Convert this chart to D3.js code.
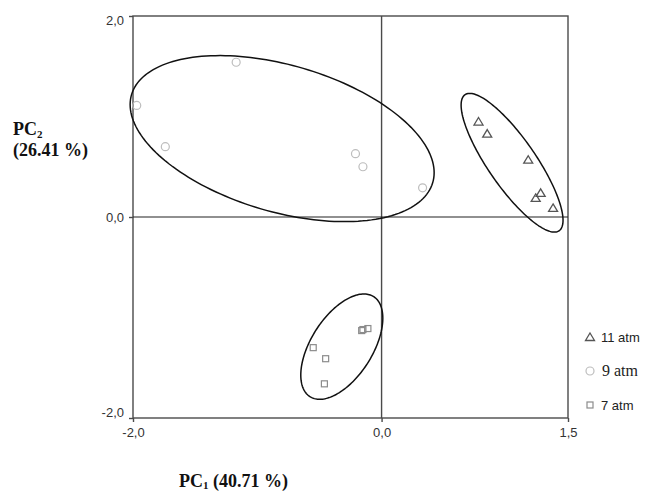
<!DOCTYPE html>
<html>
<head>
<meta charset="utf-8">
<script src="https://cdn.jsdelivr.net/npm/d3@7"></script>
<style>
	body { margin: 0; background: #fff; }
	svg { display: block; }
</style>
</head>
<body>
<svg id="chart" width="651" height="493"></svg>
<script>
	// Score values, one pair of arrays per pressure
	var pc1Atm11 = [0.78, 0.85, 1.18, 1.28, 1.24, 1.38];
	var pc2Atm11 = [0.95, 0.83, 0.57, 0.24, 0.19, 0.09];
	var pc1Atm9 = [-1.17, -1.97, -1.74, -0.21, -0.15, 0.33];
	var pc2Atm9 = [1.54, 1.11, 0.70, 0.63, 0.50, 0.29];
	var pc1Atm7 = [-0.15, -0.11, -0.16, -0.55, -0.45, -0.46];
	var pc2Atm7 = [-1.12, -1.11, -1.13, -1.30, -1.41, -1.66];

	// Confidence ellipses: centre, half extents and correlation, in PC units
	var ellipseGroups = ['11 atm', '9 atm', '7 atm'];
	var ellipseCx = [1.05, -0.80, -0.32];
	var ellipseCy = [0.54, 0.78, -1.29];
	var ellipseRx = [0.41, 1.223, 0.33];
	var ellipseRy = [0.69, 0.826, 0.524];
	var ellipseRho = [-0.83, -0.41, 0.54];

	var legendLabels = ['11 atm', '9 atm', '7 atm'];
	var xTicks = [-2, 0, 1.5];
	var yTicks = [-2, 0, 2];

	var LEFT = 133, RIGHT = 568, TOP = 16, BOTTOM = 418;
	var FRAME = '#4a4a4a';

	var svg = d3.select('#chart');
	var x = d3.scaleLinear().domain([-2, 1.5]).range([LEFT, RIGHT]);
	var y = d3.scaleLinear().domain([-2, 2]).range([BOTTOM, TOP]);
	var fmt = function (d) { return d3.format('.1f')(d).replace('.', ',').replace('−', '-'); };

	// Frame around the plot
	svg.append('rect')
		.attr('x', LEFT).attr('y', TOP)
		.attr('width', RIGHT - LEFT).attr('height', BOTTOM - TOP)
		.attr('fill', 'none').attr('stroke', FRAME).attr('stroke-width', 1.4);

	// Zero lines
	svg.append('line').attr('x1', x(0)).attr('x2', x(0)).attr('y1', TOP).attr('y2', BOTTOM)
		.attr('stroke', FRAME).attr('stroke-width', 1.4);
	svg.append('line').attr('x1', LEFT).attr('x2', RIGHT).attr('y1', y(0)).attr('y2', y(0))
		.attr('stroke', '#222').attr('stroke-width', 1.2);

	// Axes with only the three ticks each
	var xAxis = svg.append('g').attr('transform', 'translate(0,' + BOTTOM + ')')
		.call(d3.axisBottom(x).tickValues(xTicks).tickSize(4).tickFormat(fmt));
	var yAxis = svg.append('g').attr('transform', 'translate(' + LEFT + ',0)')
		.call(d3.axisLeft(y).tickValues(yTicks).tickSize(4).tickFormat(fmt));
	[xAxis, yAxis].forEach(function (g) {
		g.select('.domain').remove();
		g.selectAll('line').attr('stroke', FRAME).attr('stroke-width', 1.4);
		g.selectAll('text').attr('fill', '#333')
			.style('font-family', 'Liberation Sans, Arial, sans-serif').style('font-size', '13px');
	});
	xAxis.selectAll('text').attr('y', 10);
	yAxis.selectAll('text').attr('x', -9)
		.attr('dy', function (d) { return d === 2 ? '0.62em' : d === -2 ? '-0.12em' : '0.32em'; });

	// Ellipses drawn from the covariance style parametrisation
	var line = d3.line().curve(d3.curveLinearClosed);
	var steps = d3.range(0, 2 * Math.PI, Math.PI / 90);
	ellipseGroups.forEach(function (g, i) {
		var pts = steps.map(function (t) {
			var ex = ellipseCx[i] + ellipseRx[i] * Math.cos(t);
			var ey = ellipseCy[i] + ellipseRy[i] * (ellipseRho[i] * Math.cos(t) + Math.sqrt(1 - ellipseRho[i] * ellipseRho[i]) * Math.sin(t));
			return [x(ex), y(ey)];
		});
		svg.append('path').attr('d', line(pts))
			.attr('fill', 'none').attr('stroke', '#111').attr('stroke-width', 1.5);
	});

	// Marker shapes for each group
	function triangle(g, cx, cy) {
		g.append('path')
			.attr('d', 'M' + cx + ',' + (cy - 4) + 'L' + (cx + 4.5) + ',' + (cy + 3.5) + 'L' + (cx - 4.5) + ',' + (cy + 3.5) + 'Z')
			.attr('fill', 'none').attr('stroke', '#555').attr('stroke-width', 1.3);
	}
	function circle(g, cx, cy) {
		g.append('circle').attr('cx', cx).attr('cy', cy).attr('r', 4)
			.attr('fill', 'none').attr('stroke', '#bdbdbd').attr('stroke-width', 1.2);
	}
	function square(g, cx, cy) {
		g.append('rect').attr('x', cx - 3).attr('y', cy - 3).attr('width', 6).attr('height', 6)
			.attr('fill', 'none').attr('stroke', '#8c8c8c').attr('stroke-width', 1.2);
	}

	var points = svg.append('g');
	pc1Atm11.forEach(function (d, i) { triangle(points, x(d), y(pc2Atm11[i])); });
	pc1Atm9.forEach(function (d, i) { circle(points, x(d), y(pc2Atm9[i])); });
	pc1Atm7.forEach(function (d, i) { square(points, x(d), y(pc2Atm7[i])); });

	// Legend, the middle entry is set in a serif face like the original
	var legend = svg.append('g');
	var markers = [triangle, circle, square];
	var legendFonts = ['Liberation Sans, Arial, sans-serif', 'Liberation Serif, Times New Roman, serif', 'Liberation Sans, Arial, sans-serif'];
	var legendSizes = ['13px', '16px', '13px'];
	legendLabels.forEach(function (d, i) {
		var ly = 337 + i * 34;
		markers[i](legend, 590, ly);
		legend.append('text').attr('x', i === 1 ? 602 : 601).attr('y', ly + 4.5).text(d)
			.attr('fill', '#222')
			.style('font-family', legendFonts[i]).style('font-size', legendSizes[i]);
	});

	// Axis titles
	var title = svg.append('g').style('font-family', 'Liberation Serif, Times New Roman, serif')
		.style('font-weight', 'bold').style('font-size', '18px').attr('fill', '#111');
	var t2 = title.append('text').attr('x', 13).attr('y', 135);
	t2.append('tspan').text('PC');
	t2.append('tspan').text('2').attr('dy', 3).style('font-size', '11px');
	title.append('text').attr('x', 13).attr('y', 156).text('(26.41 %)');
	var t1 = title.append('text').attr('x', 179).attr('y', 487);
	t1.append('tspan').text('PC');
	t1.append('tspan').text('1').attr('dy', 2).style('font-size', '11px');
	t1.append('tspan').text(' (40.71 %)').attr('dy', -2);
</script>
</body>
</html>
